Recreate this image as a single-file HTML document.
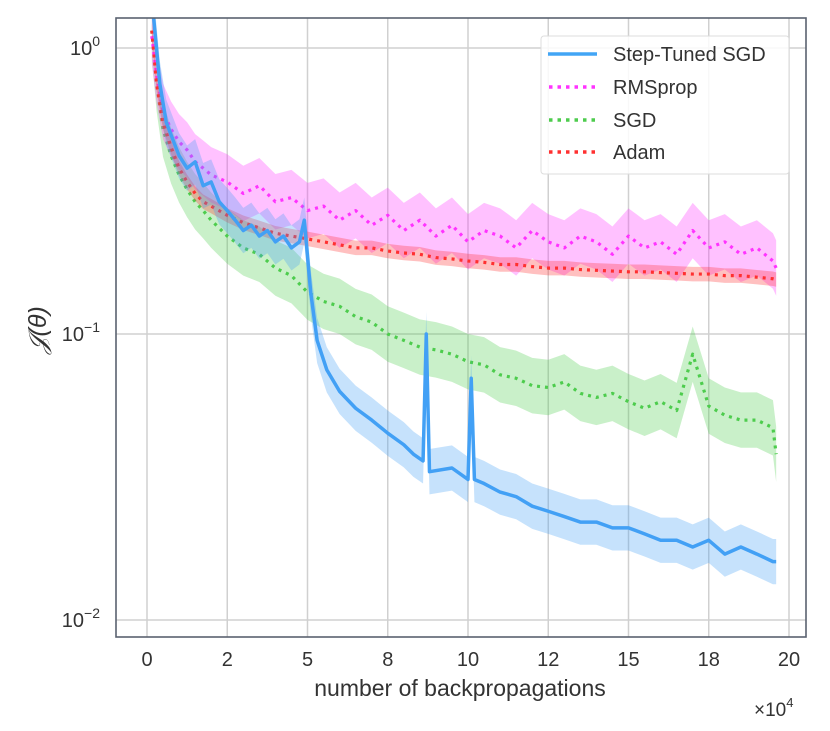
<!DOCTYPE html>
<html><head><meta charset="utf-8"><style>
body{margin:0;background:#fff}
svg text{font-family:"Liberation Sans",sans-serif;fill:#333}
</style></head><body>
<svg width="830" height="726" viewBox="0 0 830 726">
<defs><clipPath id="pc"><rect x="116" y="18" width="690" height="619"/></clipPath></defs>
<rect x="116" y="18" width="690" height="619" fill="#fff"/>
<g id="grid"></g>
<g id="series" clip-path="url(#pc)"></g>
<rect x="116" y="18" width="690" height="619" fill="none" stroke="#5a6270" stroke-width="1.6"/>
<g id="ticks"></g>
<text x="460" y="696" font-size="23" text-anchor="middle">number of backpropagations</text>
<text x="754" y="716" font-size="19" font-family="Liberation Serif">×10<tspan dy="-9" font-size="13">4</tspan></text>
<text transform="translate(46,330) rotate(-90)" font-size="25" text-anchor="middle" font-family="Liberation Serif" font-style="italic">𝒥(θ)</text>
<g>
<rect x="541" y="36" width="248" height="138" rx="3" fill="#fff" fill-opacity="0.85" stroke="#ddd"/>
<line x1="548" y1="54" x2="597" y2="54" stroke="#42a5f5" stroke-width="3.5"/>
<text x="613" y="61" font-size="20">Step-Tuned SGD</text>
<line x1="549" y1="87" x2="597" y2="87" stroke="#ff33ff" stroke-width="3.5" stroke-dasharray="3.5 5"/>
<text x="613" y="94" font-size="20">RMSprop</text>
<line x1="549" y1="120" x2="597" y2="120" stroke="#4dcc4d" stroke-width="3.5" stroke-dasharray="3.5 5"/>
<text x="613" y="127" font-size="20">SGD</text>
<line x1="549" y1="152" x2="597" y2="152" stroke="#ff3030" stroke-width="3.5" stroke-dasharray="3.5 5"/>
<text x="613" y="159" font-size="20">Adam</text>
</g>
</svg>
<script>
const xTicks=[0,2.5,5,7.5,10,12.5,15,17.5,20];
const xTickLabels=["0","2","5","8","10","12","15","18","20"];
const yTicks=[0,-1,-2];
const yTickLabels=["0","−1","−2"];
const xs=[0.15,0.3,0.5,0.75,1,1.25,1.5,1.75,2,2.5,3,3.5,4,4.5,5,5.5,6,6.5,7,7.5,8,8.5,9,9.5,10,10.5,11,11.5,12,12.5,13,13.5,14,14.5,15,15.5,16,16.5,17,17.5,18,18.5,19,19.5,19.6];
const rmsprop=[1.1,0.8,0.6,0.52,0.47,0.44,0.40,0.38,0.36,0.34,0.31,0.33,0.29,0.30,0.27,0.28,0.25,0.27,0.24,0.26,0.23,0.25,0.22,0.24,0.21,0.23,0.22,0.20,0.23,0.21,0.20,0.22,0.21,0.19,0.22,0.20,0.21,0.19,0.23,0.20,0.21,0.19,0.20,0.18,0.17];
const adam=[1.15,0.75,0.55,0.45,0.38,0.34,0.31,0.29,0.28,0.26,0.245,0.235,0.225,0.22,0.215,0.21,0.205,0.2,0.2,0.195,0.192,0.19,0.185,0.183,0.18,0.178,0.175,0.175,0.172,0.17,0.17,0.168,0.167,0.166,0.165,0.165,0.164,0.163,0.162,0.162,0.16,0.16,0.158,0.156,0.155];
const sgd=[1.15,0.75,0.52,0.42,0.36,0.32,0.29,0.27,0.25,0.22,0.2,0.19,0.17,0.16,0.14,0.13,0.125,0.115,0.11,0.1,0.095,0.09,0.088,0.085,0.08,0.078,0.072,0.07,0.066,0.065,0.068,0.062,0.06,0.062,0.058,0.055,0.058,0.054,0.085,0.056,0.052,0.05,0.05,0.047,0.038];
const xsStep=[0.2,0.4,0.6,0.8,1,1.25,1.5,1.75,2,2.25,2.5,2.75,3,3.25,3.5,3.75,4,4.25,4.5,4.75,4.9,5.1,5.3,5.6,6,6.5,7,7.5,8,8.3,8.6,8.7,8.8,9.5,10,10.1,10.2,10.5,11,11.5,12,12.5,13,13.5,14,14.5,15,15.5,16,16.5,17,17.5,18,18.5,19,19.5,19.6];
const stepTuned=[1.3,0.75,0.55,0.48,0.42,0.38,0.4,0.33,0.34,0.29,0.27,0.25,0.23,0.24,0.22,0.23,0.21,0.22,0.2,0.21,0.25,0.14,0.095,0.075,0.063,0.055,0.05,0.045,0.041,0.038,0.036,0.1,0.033,0.034,0.031,0.07,0.031,0.03,0.028,0.027,0.025,0.024,0.023,0.022,0.022,0.021,0.021,0.02,0.019,0.019,0.018,0.019,0.017,0.018,0.017,0.016,0.016];
const bandSpread={step:1.2,rms:1.25,sgd:1.25,adam:1.06};

const NS="http://www.w3.org/2000/svg";
const X=v=>147+v*(789-147)/20;
const Y=v=>48-286*Math.log10(v);
const YL=e=>48-286*e;
function mk(t,a,parent){const e=document.createElementNS(NS,t);for(const k in a)e.setAttribute(k,a[k]);parent.appendChild(e);return e;}
const grid=document.getElementById('grid'),ticks=document.getElementById('ticks'),ser=document.getElementById('series');
xTicks.forEach((t,i)=>{
  const l=mk('line',{x1:X(t),x2:X(t),y1:18,y2:637,stroke:'#d0d0d0','stroke-width':1.5},grid);
  
  
  const tx=mk('text',{x:X(t),y:666,'font-size':20,'text-anchor':'middle'},ticks);
  tx.textContent=xTickLabels[i];
  
  
});
yTicks.forEach((e,i)=>{
  const l=mk('line',{x1:116,x2:806,y1:YL(e),y2:YL(e),stroke:'#d0d0d0','stroke-width':1.5},grid);
  
  
  const tx=mk('text',{x:100,y:YL(e)+7,'font-size':20,'text-anchor':'end','font-family':'Liberation Serif'},ticks);
  tx.innerHTML='10<tspan dy="-9" font-size="14">'+yTickLabels[i]+'</tspan>';
  
  
});
function draw(xa,ya,k,color,dash,name,w){
  let up=xa.map((x,i)=>X(x)+','+Y(ya[i]*k)).join(' ');
  let lo=xa.map((x,i)=>X(x)+','+Y(ya[i]/k)).reverse().join(' ');
  const b=mk('polygon',{points:up+' '+lo,fill:color,'fill-opacity':0.3},ser);
  
  
  const a={points:xa.map((x,i)=>X(x)+','+Y(ya[i])).join(' '),fill:'none',stroke:color,'stroke-width':w,'stroke-linejoin':'round'};
  if(dash)a['stroke-dasharray']=dash;
  const p=mk('polyline',a,ser);
  
  
}
draw(xs,sgd,bandSpread.sgd,'#4dcc4d','3 5','sgd',3.2);
draw(xs,rmsprop,bandSpread.rms,'#ff33ff','3 5','rmsprop',3.2);
draw(xs,adam,bandSpread.adam,'#ff3030','3 5','adam',3.2);
draw(xsStep,stepTuned,bandSpread.step,'#42a0f5',null,'step-tuned-sgd',3.5);
</script>
</body></html>
